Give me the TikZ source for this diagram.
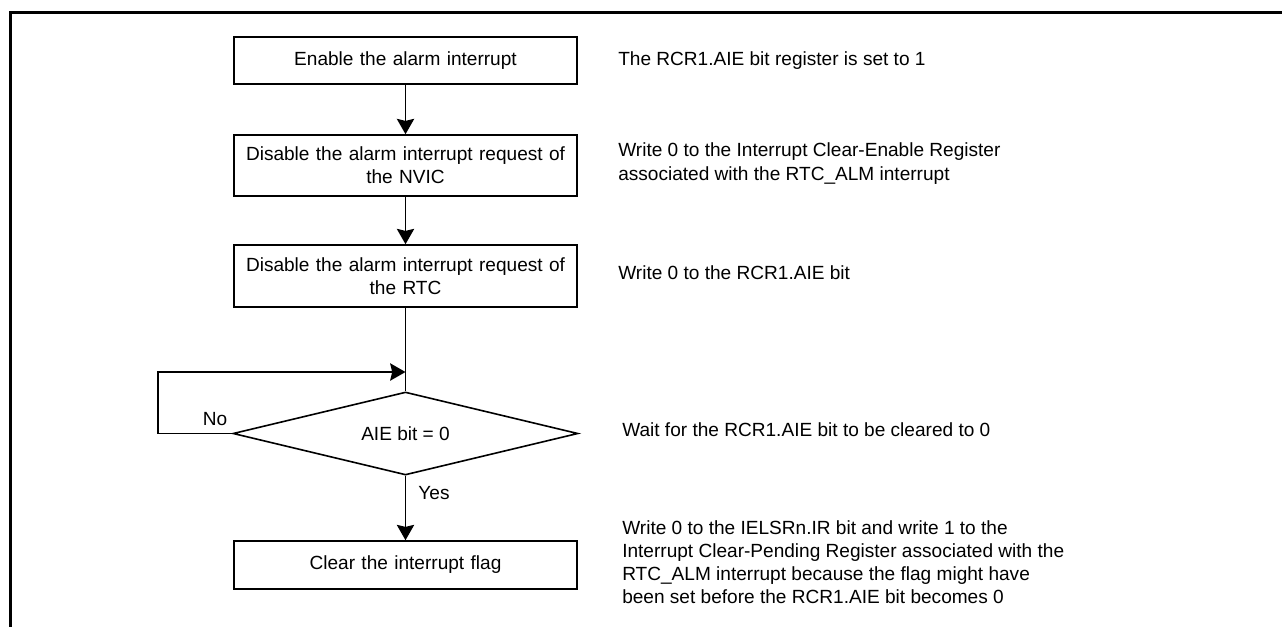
\documentclass[tikz,border=0pt]{standalone}
\usepackage{fontspec}
\setmainfont{Liberation Sans}
\usetikzlibrary{arrows.meta,shapes.geometric}
\begin{document}
\begin{tikzpicture}[x=0.75pt,y=-0.75pt,
  every node/.style={font=\fontsize{14.3}{17.4}\selectfont},
  stepbox/.style={draw, line width=1.2pt, minimum width=257.25pt, text width=250pt,
    inner xsep=3.625pt, inner ysep=0pt, align=center},
  decision/.style={draw, shape=diamond, shape aspect=4.16, line width=1.2pt, minimum width=258.75pt,
    minimum height=62.25pt, inner sep=0pt},
  note/.style={anchor=west, inner sep=0pt, align=left},
  lbl/.style={inner sep=0pt},
  conn/.style={line width=1.2pt},
  arr/.style={conn, -{Stealth[length=11.5pt,width=13pt,inset=1.5pt]}},
  frame/.style={line width=2.25pt}
]
\useasboundingbox (0,0) rectangle (1282,626);
% frame
\coordinate (fbl) at (10.5,630);
\coordinate (ftl) at (10.5,12.5);
\coordinate (ftr) at (1290,12.5);
\draw[frame] (fbl) -- (ftl) -- (ftr);

% flow boxes
\node[stepbox, minimum height=35.25pt] (b1) at (405.5,60.5) {Enable the alarm interrupt};
\node[stepbox, minimum height=45.75pt] (b2) at (405.5,165.5) {Disable the alarm interrupt request of\\the NVIC};
\node[stepbox, minimum height=46.5pt] (b3) at (405.5,276) {Disable the alarm interrupt request of\\the RTC};
\node[decision] (d) at (405.5,433.5) {AIE bit = 0};
\node[stepbox, minimum height=36pt] (b5) at (405.5,565) {Clear the interrupt flag};

% connectors
\draw[arr] (b1) -- (b2);
\draw[arr] (b2) -- (b3);
\draw[conn] (b3) -- (d);
\coordinate (lc) at (158,372);
\coordinate (lp) at (405.5,372);
\draw[arr] (d.west) -| (lc) -- (lp);
\draw[arr] (d) -- (b5);

% branch labels
\node[lbl] (no) at (215,419) {No};
\node[lbl] (yes) at (434,493) {Yes};

% notes
\node[note] (n1) at (618,60.5) {The RCR1.AIE bit register is set to 1};
\node[note] (n2) at (618,163.5) {Write 0 to the Interrupt Clear-Enable Register\\associated with the RTC\_ALM interrupt};
\node[note] (n3) at (618,273) {Write 0 to the RCR1.AIE bit};
\node[note] (n4) at (622,430) {Wait for the RCR1.AIE bit to be cleared to 0};
\node[note] (n5) at (622,562) {Write 0 to the IELSRn.IR bit and write 1 to the\\Interrupt Clear-Pending Register associated with the\\RTC\_ALM interrupt because the flag might have\\been set before the RCR1.AIE bit becomes 0};
\end{tikzpicture}
\end{document}
